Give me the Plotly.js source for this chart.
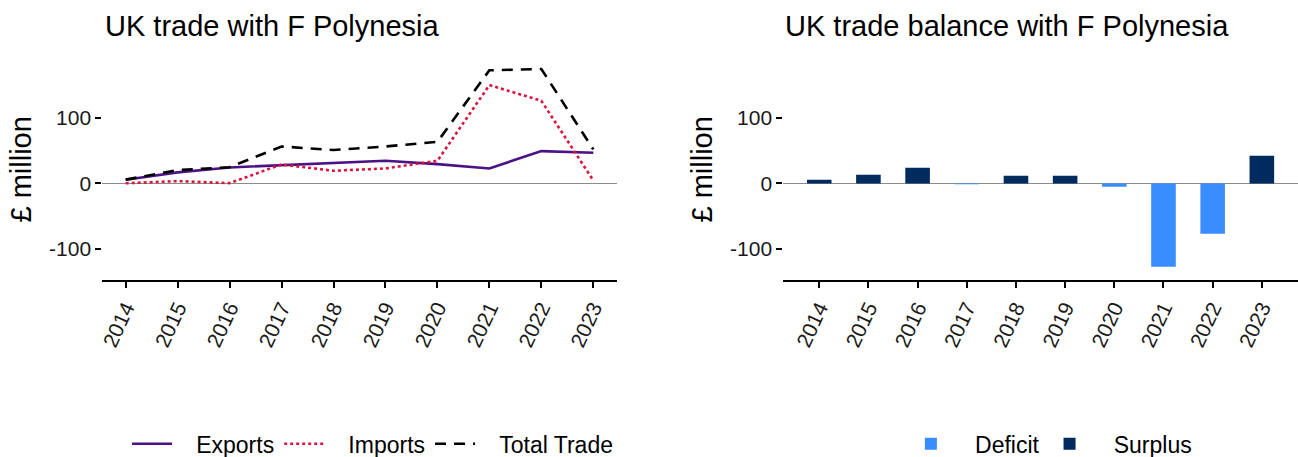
<!DOCTYPE html>
<html>
<head>
<meta charset="utf-8">
<script src="https://cdn.plot.ly/plotly-3.0.1.min.js"></script>
<style>
  html, body { margin: 0; padding: 0; background: #ffffff; }
  #chart { width: 1298px; height: 457px; }
</style>
</head>
<body>
<div id="chart"></div>
<script>
// ---- data (£ million) ----
const years = ["2014", "2015", "2016", "2017", "2018", "2019", "2020", "2021", "2022", "2023"];
const exportsVals = [5.6, 16.8, 24.4, 27.5, 31.0, 34.6, 29.5, 22.9, 49.4, 46.8];
const importsVals = [0.2, 3.5, 0.4, 29.0, 19.3, 22.9, 34.6, 150.4, 126.4, 4.5];
const totalVals   = [5.8, 20.3, 24.8, 56.5, 51.0, 56.5, 63.5, 173.0, 175.0, 52.0];
const balanceVals = [5.4, 13.3, 24.0, -1.2, 11.7, 11.7, -5.1, -127.5, -77.0, 42.3];
const yTickVals = [-100, 0, 100];
const yTickText = ["-100", "0", "100"];
const seriesNames = ["Exports", "Imports", "Total Trade"];
const balanceNames = ["Deficit", "Surplus"];

const FONT = "Liberation Sans, Arial, sans-serif";
const PAD = "\u00a0\u00a0\u00a0";
const deficitVals = balanceVals.map(v => (v < 0 ? v : null));
const surplusVals = balanceVals.map(v => (v >= 0 ? v : null));

const traces = [
  { type: "scatter", mode: "lines", name: PAD + seriesNames[0], x: years, y: exportsVals,
    line: { color: "#4b1286", width: 2.6 }, xaxis: "x", yaxis: "y", legend: "legend" },
  { type: "scatter", mode: "lines", name: PAD + seriesNames[1], x: years, y: importsVals,
    line: { color: "#dc143c", width: 2.6, dash: "dot" }, xaxis: "x", yaxis: "y", legend: "legend" },
  { type: "scatter", mode: "lines", name: PAD + seriesNames[2], x: years, y: totalVals,
    line: { color: "#000000", width: 2.6, dash: "11px,8px" }, xaxis: "x", yaxis: "y", legend: "legend" },
  { type: "bar", name: PAD + balanceNames[0], x: years, y: deficitVals, width: 0.5,
    marker: { color: "#3a8dff" }, xaxis: "x2", yaxis: "y2", legend: "legend2" },
  { type: "bar", name: PAD + balanceNames[1], x: years, y: surplusVals, width: 0.5,
    marker: { color: "#012a5e" }, xaxis: "x2", yaxis: "y2", legend: "legend2" }
];

function xAxis(domain, range) {
  return {
    domain: domain, range: range, type: "category",
    showline: true, linecolor: "#000000", linewidth: 2,
    ticks: "outside", ticklen: 6, tickwidth: 2, tickcolor: "#000000",
    tickangle: -65, tickfont: { family: FONT, size: 21, color: "#1a1a1a" },
    showgrid: false, zeroline: false, fixedrange: true, automargin: false
  };
}
function yAxis(domain, anchor) {
  return {
    domain: domain, range: [-147, 190], anchor: anchor,
    tickvals: yTickVals, ticktext: yTickText,
    ticks: "outside", ticklen: 6, tickwidth: 2, tickcolor: "#000000",
    tickfont: { family: FONT, size: 21, color: "#1a1a1a" },
    showline: false, showgrid: false,
    zeroline: true, zerolinecolor: "#8c8c8c", zerolinewidth: 1.5,
    title: { text: "£ million", font: { family: FONT, size: 29, color: "#000000" }, standoff: 8 },
    fixedrange: true, automargin: false
  };
}

const yDom = [0.3884, 0.8705];
const layout = {
  width: 1298, height: 457,
  margin: { l: 0, r: 0, t: 0, b: 0, autoexpand: false },
  paper_bgcolor: "#ffffff", plot_bgcolor: "#ffffff",
  font: { family: FONT, color: "#000000" },
  barmode: "overlay",
  xaxis: Object.assign(xAxis([0.0788, 0.4751], [-0.45, 9.45]), { anchor: "y" }),
  yaxis: yAxis(yDom, "x"),
  xaxis2: Object.assign(xAxis([0.6035, 0.9998], [-0.73, 9.73]), { anchor: "y2" }),
  yaxis2: yAxis(yDom, "x2"),
  showlegend: true,
  legend: {
    orientation: "h", x: 0.287, xanchor: "center", y: -0.018, yanchor: "bottom",
    font: { family: FONT, size: 23, color: "#000000" }, itemwidth: 40,
    bgcolor: "rgba(0,0,0,0)"
  },
  legend2: {
    orientation: "h", x: 0.81, xanchor: "center", y: -0.018, yanchor: "bottom",
    font: { family: FONT, size: 23, color: "#000000" }, itemwidth: 40,
    bgcolor: "rgba(0,0,0,0)"
  },
  annotations: [
    { text: "UK trade with F Polynesia", xref: "paper", yref: "paper",
      x: 0.0795, xanchor: "left", y: 0.943, yanchor: "middle", showarrow: false,
      font: { family: FONT, size: 29, color: "#000000" } },
    { text: "UK trade balance with F Polynesia", xref: "paper", yref: "paper",
      x: 0.6035, xanchor: "left", y: 0.943, yanchor: "middle", showarrow: false,
      font: { family: FONT, size: 29, color: "#000000" } }
  ]
};

Plotly.newPlot("chart", traces, layout, { displayModeBar: false, staticPlot: true });
</script>
</body>
</html>
